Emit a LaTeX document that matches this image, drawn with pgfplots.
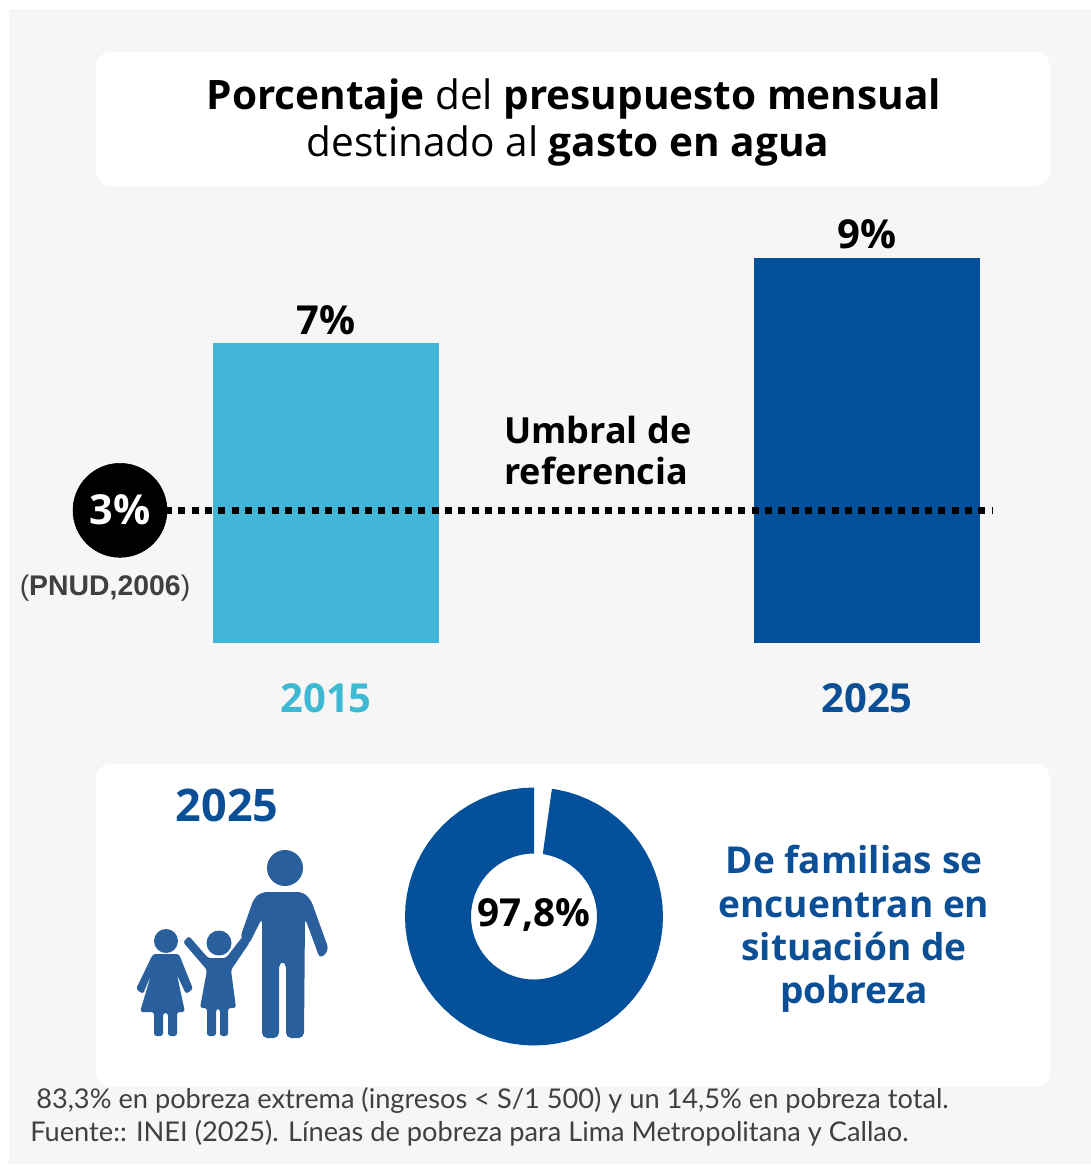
\documentclass[border=0pt]{standalone}
\usepackage{pgfplots}
\pgfplotsset{compat=1.18}
\usepgfplotslibrary{polar}
\usepackage{fontspec}
\setmainfont{Open Sans}
\newfontfamily\lib{Liberation Sans}
\newfontfamily\foot{Lato}
\definecolor{bgc}{HTML}{F6F6F6}
\definecolor{cyanb}{HTML}{43B6D8}
\definecolor{navy}{HTML}{04509A}
\definecolor{cyant}{HTML}{3DB9D3}
\definecolor{navyt}{HTML}{0B4F96}
\definecolor{icon}{HTML}{2A5F9E}
\definecolor{txt}{HTML}{404040}
\newcommand{\fs}[1]{\fontsize{#1}{#1}\selectfont}
\begin{document}
\begin{tikzpicture}
\begin{scope}[x=0.75pt,y=-0.75pt]
\path[use as bounding box] (0,0) rectangle (1091,1165);
\fill[white] (0,0) rectangle (1091,1165);
\fill[bgc] (9,9) rectangle (1091,1164);
\fill[white,rounded corners=11pt] (96,52) rectangle (1050,186);
\fill[white,rounded corners=11pt] (96,764) rectangle (1050,1087);
\end{scope}
% bars
\begin{axis}[at={(0pt,-482.25pt)},anchor=south west,scale only axis,
  width=818.25pt,height=288.9pt,xmin=0,xmax=1091,ymin=0,ymax=9,clip=false,
  axis line style={draw=none},ymajorticks=false,major tick length=0pt,
  xtick={326,867},
  xticklabels={\textcolor{cyant}{2015},\textcolor{navyt}{2025}},
  xticklabel style={anchor=center,yshift=-41.25pt,font=\bfseries\fs{30pt}},
  every node near coord/.append style={font=\bfseries\fs{30pt},black,yshift=3pt}]
\addplot[ybar,bar width=169.5pt,bar shift=0pt,fill=cyanb,draw=none,
  nodes near coords={7\%}] coordinates {(326,7)};
\addplot[ybar,bar width=170pt,bar shift=0pt,fill=navy,draw=none,
  nodes near coords={9\%}] coordinates {(867,9)};
\addplot[black,line width=5.25pt,dash pattern=on 5.25pt off 4.75pt] coordinates {(165,3.1) (993,3.1)};
\addplot[only marks,mark=*,mark size=35.25pt,black,
  nodes near coords={\textcolor{white}{\bfseries\fs{31pt}3\%}},
  every node near coord/.append style={anchor=center,yshift=-2.75pt}] coordinates {(120,3.1)};
\end{axis}
% donut
\begin{axis}[at={(400.5pt,-687.375pt)},anchor=center,scale only axis,width=225pt,height=225pt,
  xmin=-150,xmax=150,ymin=-150,ymax=150,hide axis,clip=false]
\addplot[data cs=polar,fill=navy,draw=none] coordinates {
(82,129)(80,129)(75,129)(70,129)(65,129)(60,129)(55,129)(50,129)(45,129)(40,129)(35,129)(30,129)(25,129)(20,129)(15,129)(10,129)(5,129)(0,129)
(-5,129)(-10,129)(-15,129)(-20,129)(-25,129)(-30,129)(-35,129)(-40,129)(-45,129)(-50,129)(-55,129)(-60,129)(-65,129)(-70,129)(-75,129)(-80,129)(-85,129)(-90,129)
(-95,129)(-100,129)(-105,129)(-110,129)(-115,129)(-120,129)(-125,129)(-130,129)(-135,129)(-140,129)(-145,129)(-150,129)(-155,129)(-160,129)(-165,129)(-170,129)(-175,129)(-180,129)
(-185,129)(-190,129)(-195,129)(-200,129)(-205,129)(-210,129)(-215,129)(-220,129)(-225,129)(-230,129)(-235,129)(-240,129)(-245,129)(-250,129)(-255,129)(-260,129)(-265,129)(-270,129)
(-270,63)(-265,63)(-260,63)(-255,63)(-250,63)(-245,63)(-240,63)(-235,63)(-230,63)(-225,63)(-220,63)(-215,63)(-210,63)(-205,63)(-200,63)(-195,63)(-190,63)(-185,63)
(-180,63)(-175,63)(-170,63)(-165,63)(-160,63)(-155,63)(-150,63)(-145,63)(-140,63)(-135,63)(-130,63)(-125,63)(-120,63)(-115,63)(-110,63)(-105,63)(-100,63)(-95,63)
(-90,63)(-85,63)(-80,63)(-75,63)(-70,63)(-65,63)(-60,63)(-55,63)(-50,63)(-45,63)(-40,63)(-35,63)(-30,63)(-25,63)(-20,63)(-15,63)(-10,63)(-5,63)
(0,63)(5,63)(10,63)(15,63)(20,63)(25,63)(30,63)(35,63)(40,63)(45,63)(50,63)(55,63)(60,63)(65,63)(70,63)(75,63)(80,63)(82,63)
} --cycle;
\end{axis}
\begin{scope}[x=0.75pt,y=-0.75pt]
% title
\node[anchor=center,font=\fs{30.4pt}] at (574,99) {\textbf{Porcentaje} del \textbf{presupuesto mensual}};
\node[anchor=center,font=\fs{30.4pt}] at (568,146) {destinado al \textbf{gasto en agua}};
% umbral
\node[anchor=west,inner sep=0pt,font=\bfseries\fs{27pt}] at (504,430) {Umbral de};
\node[anchor=west,inner sep=0pt,font=\bfseries\fs{27pt}] at (504,471) {referencia};
\node[anchor=center,inner sep=0pt,font=\lib\fs{21.3pt},text=txt] at (105,588) {(\textbf{PNUD,2006})};
% lower panel
\node[anchor=center,font=\bfseries\fs{33.7pt},text=navyt] at (227,805) {2025};
\node[anchor=center,font=\bfseries\fs{29pt}] at (534,915) {97,8\%};
\foreach \yy/\tt in {873/De familias se,917/encuentran en,960/situación de,1003/pobreza}
  \node[anchor=base,inner sep=0pt,font=\bfseries\fs{27.8pt},text=navyt] at (854,\yy) {\tt};
% footer
\node[anchor=west,inner sep=0pt,font=\foot\fs{20.4pt},text=txt] at (36,1100) {83,3\% en pobreza extrema (ingresos < S/1 500) y un 14,5\% en pobreza total.};
\node[anchor=west,inner sep=0pt,font=\foot\fs{20.4pt},text=txt] at (30,1133) {Fuente:: INEI (2025). Líneas de pobreza para Lima Metropolitana y Callao.};
% icons
\fill[icon] (285,868) circle (18);
\fill[icon,rounded corners=4pt] (262,892)--(303,892)--(311,900)--(329,950)--(320,959)--(305,918)--(304,1038)--(286,1038)--(286,962)--(279,962)--(279,1038)--(262,1038)--(262,918)--(248,946)--(240,938)--(254,898)--cycle;
\fill[icon] (219,943) circle (12.5);
\fill[icon,rounded corners=2pt] (183,942)--(189,936)--(208,958)--(226,958)--(243,936)--(250,942)--(231,970)--(236,1008)--(228,1008)--(228,1036)--(220,1036)--(220,1009)--(216,1009)--(216,1036)--(207,1036)--(207,1008)--(200,1008)--(207,970)--cycle;
\fill[icon] (166,941) circle (12);
\fill[icon,rounded corners=2pt] (153,954)--(179,954)--(193,989)--(186,994)--(177,975)--(185,1012)--(177,1012)--(177,1036)--(168,1036)--(168,1013)--(163,1013)--(163,1036)--(154,1036)--(154,1012)--(140,1012)--(151,975)--(143,994)--(136,989)--cycle;
\end{scope}
\end{tikzpicture}
\end{document}
